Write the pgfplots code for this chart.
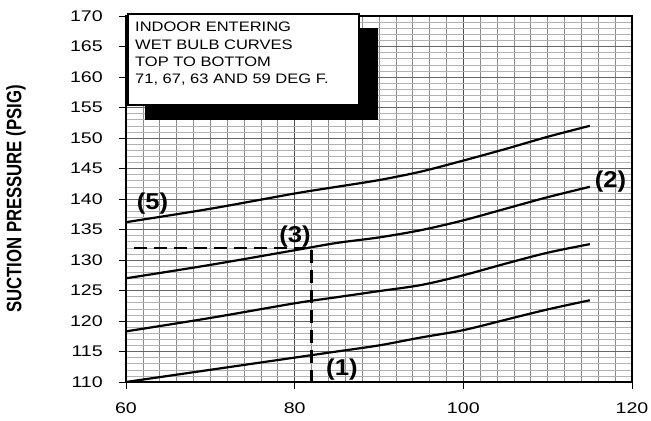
\documentclass[border=0pt]{standalone}
\usepackage{fontspec}
\usepackage{graphicx}
\setmainfont{Liberation Sans}
\newfontfamily\boldlab{Liberation Sans Bold}
\newfontfamily\ylabfont[FakeStretch=0.8]{Liberation Sans Bold}
\usepackage{pgfplots}
\pgfplotsset{compat=1.18}
\newcommand{\numlab}[1]{\scalebox{1.12}[1]{\boldlab\fontsize{23}{23}\selectfont #1}}
\newcommand{\legline}[1]{\scalebox{1.2}[1]{\fontsize{13.8}{13.8}\selectfont #1}}
\newcommand{\tl}[1]{\scalebox{1.27}[1]{\fontsize{15.5}{15.5}\selectfont #1}}
\begin{document}
\begin{tikzpicture}
\begin{axis}[
  at={(0,0)}, anchor=south west,
  scale only axis, width=506bp, height=366bp,
  xmin=60, xmax=120, ymin=110, ymax=170,
  xtick={60,80,100,120}, ytick={110,115,...,170},
  minor x tick num=9, minor y tick num=4,
  grid=both,
  major x grid style={black!70, line width=0.6bp},
  minor x grid style={black!45, line width=0.6bp},
  major y grid style={black!60, line width=0.6bp},
  minor y grid style={black!30, line width=0.6bp},
  tick align=outside, major tick length=7bp, minor tick length=0pt,
  xtick pos=bottom, ytick pos=left,
  axis line style={black, line width=1.2bp},
  tick style={black, line width=0.9bp},
  /pgf/number format/assume math mode=true,
  xticklabel={\tl{\pgfmathprintnumber{\tick}}},
  yticklabel={\tl{\pgfmathprintnumber{\tick}}},
  yticklabel style={anchor=east, inner sep=0pt, xshift=-16bp},
  xticklabel style={anchor=north, inner sep=0pt, yshift=-14bp},
]
% 71 F
\addplot[black, line width=2.2bp, smooth] coordinates {
 (60,136.2) (70,138.4) (80,140.9) (85,142.0) (90,143.1) (95,144.5) (100,146.3) (105,148.2) (110,150.2) (115,152.0)};
% 67 F
\addplot[black, line width=2.2bp, smooth] coordinates {
 (60,127.0) (70,129.2) (80,131.6) (85,132.8) (90,133.7) (95,134.9) (100,136.5) (105,138.4) (110,140.3) (115,142.0)};
% 63 F
\addplot[black, line width=2.2bp, smooth] coordinates {
 (60,118.3) (70,120.5) (80,122.9) (85,123.9) (90,124.9) (95,125.9) (100,127.5) (105,129.4) (110,131.2) (115,132.6)};
% 59 F
\addplot[black, line width=2.2bp, smooth] coordinates {
 (60,110.0) (70,112.0) (80,114.0) (85,115.0) (90,116.0) (95,117.3) (100,118.5) (105,120.2) (110,121.9) (115,123.4)};
% dashed reading line
\addplot[black, line width=2.3bp, dash pattern=on 13bp off 7bp] coordinates {(60.9,132) (82,132) (82,110)};
\node at (axis cs:63.14,139.3) {\numlab{(5)}};
\node at (axis cs:80.04,133.8) {\numlab{(3)}};
\node at (axis cs:117.45,142.8) {\numlab{(2)}};
\node at (axis cs:85.6,112.0) {\numlab{(1)}};
\end{axis}
% legend box with shadow
\fill[black] (19bp,262bp) rectangle (252bp,354bp);
\filldraw[fill=white, draw=black, line width=1.4bp] (2bp,277bp) rectangle (233bp,368bp);
\begin{scope}[every node/.style={anchor=base west, inner sep=0pt}]
\node at (9bp,350bp) {\legline{INDOOR ENTERING}};
\node at (9bp,332.7bp) {\legline{WET BULB CURVES}};
\node at (9bp,315.4bp) {\legline{TOP TO BOTTOM}};
\node at (9bp,298.1bp) {\legline{71, 67, 63 AND 59 DEG F.}};
\end{scope}
\node[rotate=90, font=\ylabfont\fontsize{21}{21}\selectfont] at (-110bp,183bp) {SUCTION PRESSURE (PSIG)};
\pgfresetboundingbox
\path[use as bounding box] (-126bp,-39bp) rectangle (525bp,382bp);
\end{tikzpicture}
\end{document}
